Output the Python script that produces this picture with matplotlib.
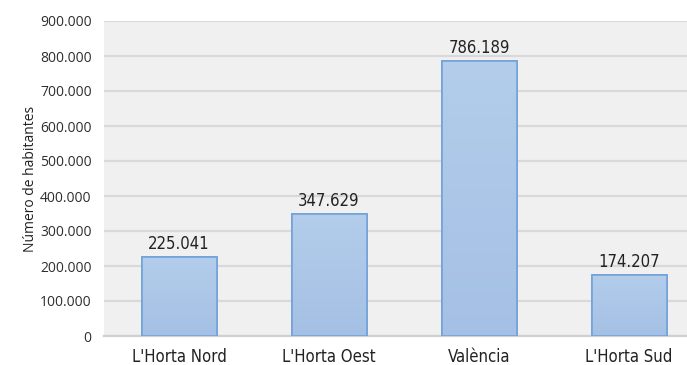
import matplotlib
matplotlib.use("Agg")
import matplotlib.pyplot as plt
import numpy as np
from matplotlib.ticker import FuncFormatter, MultipleLocator
from matplotlib import font_manager

categories = ["L'Horta Nord", "L'Horta Oest", "València", "L'Horta Sud"]
population = [225041, 347629, 786189, 174207]
y_label = "Número de habitantes"


def dotted(v):
    return f"{int(round(v)):,}".replace(",", ".")


names = {f.name for f in font_manager.fontManager.ttflist}
narrow = "Liberation Sans Narrow" if "Liberation Sans Narrow" in names else "DejaVu Sans"
narrow_kw = dict(family=[narrow, "DejaVu Sans"], stretch="condensed")

fig = plt.figure(figsize=(6.87, 3.65), dpi=100)
fig.patch.set_facecolor("white")
ax = fig.add_axes([104 / 687, 29 / 365, 600 / 687, 315 / 365])
ax.set_facecolor("#f0f0f0")

x = np.arange(len(categories))
bars = ax.bar(x, population, width=0.5, color="#abc6e7",
              edgecolor="#6f9fd8", linewidth=1.2, zorder=3)

# soft vertical gradient inside each bar
grad = np.linspace(0, 1, 256).reshape(-1, 1)
cmap = matplotlib.colors.LinearSegmentedColormap.from_list(
    "bar", ["#a4c0e4", "#b3cdeb"])
for b in bars:
    x0, y0 = b.get_x(), b.get_y()
    w, h = b.get_width(), b.get_height()
    im = ax.imshow(grad, extent=[x0, x0 + w, y0, y0 + h], origin="lower",
                   cmap=cmap, aspect="auto", zorder=3.5)
    im.set_clip_path(b)
    ax.add_patch(plt.Rectangle((x0, y0), w, h, fill=False,
                               edgecolor="#74a2da", linewidth=1.2, zorder=4))

for xi, v in zip(x, population):
    ax.text(xi, v + 12000, dotted(v), ha="center", va="bottom",
            fontsize=12, color="#222222", **narrow_kw)

ax.set_xlim(-0.5, 3.5)
ax.set_ylim(0, 900000)
ax.yaxis.set_major_locator(MultipleLocator(100000))
ax.yaxis.set_major_formatter(FuncFormatter(lambda v, p: dotted(v)))
ax.grid(axis="y", color="#d9d9d9", linewidth=1.6, zorder=0)
ax.set_axisbelow(True)

for s in ["top", "right", "left"]:
    ax.spines[s].set_visible(False)
ax.spines["bottom"].set_color("#d0d0d0")
ax.spines["bottom"].set_linewidth(1.6)

ax.tick_params(axis="both", length=0)
ax.tick_params(axis="y", pad=9, labelsize=10, labelcolor="#2e2e2e")
ax.tick_params(axis="x", pad=9, labelsize=12, labelcolor="#222222")
ax.set_xticks(x)
ax.set_xticklabels(categories)
for t in ax.get_xticklabels():
    t.set_family(narrow_kw["family"])
    t.set_stretch("condensed")
for t in ax.get_yticklabels():
    t.set_family(["Open Sans", "DejaVu Sans"])

ax.set_ylabel(y_label, fontsize=10, family=["Open Sans", "DejaVu Sans"],
              color="#222222")
ax.yaxis.set_label_coords(-0.11, 0.5)

fig.savefig("out.png", dpi=100, facecolor="white")
